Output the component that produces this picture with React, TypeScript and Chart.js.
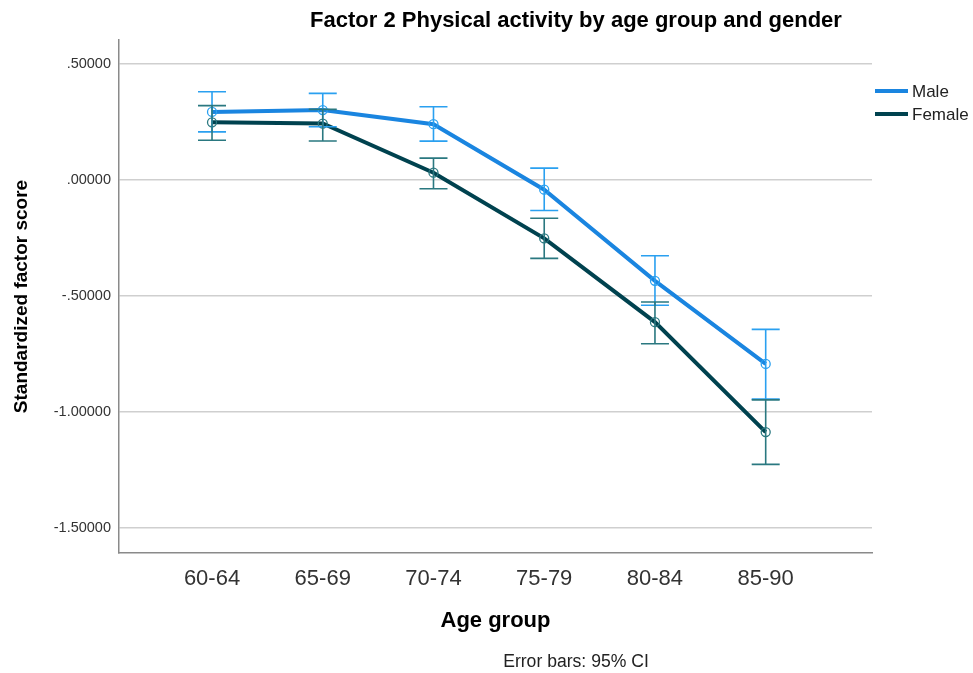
import React, { useEffect, useRef } from "react";
import { Chart, registerables } from "chart.js";

Chart.register(...registerables);

const categories = ["60-64", "65-69", "70-74", "75-79", "80-84", "85-90"];
const maleMean = [0.293, 0.301, 0.24, -0.042, -0.435, -0.793];
const maleLower = [0.207, 0.229, 0.167, -0.132, -0.54, -0.945];
const maleUpper = [0.38, 0.373, 0.315, 0.051, -0.327, -0.644];
const femaleMean = [0.248, 0.243, 0.031, -0.252, -0.613, -1.087];
const femaleLower = [0.171, 0.168, -0.038, -0.338, -0.706, -1.226];
const femaleUpper = [0.32, 0.304, 0.094, -0.165, -0.526, -0.948];
const yTicks = [-1.5, -1.0, -0.5, 0, 0.5];

const MALE = "#1a85e0";
const FEMALE = "#00424f";
const MALE_ERR = "#2aa0f0";
const FEMALE_ERR = "#2a7880";

const FONT = "'Liberation Sans', Arial, sans-serif";

const errorBarPlugin = {
  id: "errorBars",
  afterDatasetsDraw(chart: any) {
    const { ctx, scales } = chart;
    const xs = scales.x;
    const ys = scales.y;
    const sets = [
      { lo: maleLower, hi: maleUpper, color: MALE_ERR },
      { lo: femaleLower, hi: femaleUpper, color: FEMALE_ERR },
    ];
    ctx.save();
    ctx.lineWidth = 1.6;
    sets.forEach((s) => {
      ctx.strokeStyle = s.color;
      categories.forEach((_, i) => {
        const x = xs.getPixelForValue(i);
        const y1 = ys.getPixelForValue(s.lo[i]);
        const y2 = ys.getPixelForValue(s.hi[i]);
        const half = 14;
        ctx.beginPath();
        ctx.moveTo(x, y1);
        ctx.lineTo(x, y2);
        ctx.moveTo(x - half, y1);
        ctx.lineTo(x + half, y1);
        ctx.moveTo(x - half, y2);
        ctx.lineTo(x + half, y2);
        ctx.stroke();
      });
    });
    ctx.restore();
  },
};

const textPlugin = {
  id: "texts",
  afterDraw(chart: any) {
    const { ctx } = chart;
    ctx.save();
    ctx.fillStyle = "#000";
    ctx.textBaseline = "middle";
    ctx.textAlign = "center";
    ctx.font = `bold 22px ${FONT}`;
    ctx.fillText("Factor 2 Physical activity by age group and gender", 576, 21);
    ctx.font = `17.6px ${FONT}`;
    ctx.fillStyle = "#222";
    ctx.fillText("Error bars: 95% CI", 576, 662);
    // legend
    const items = [
      { label: "Male", color: MALE, y: 91 },
      { label: "Female", color: FEMALE, y: 114 },
    ];
    ctx.textAlign = "left";
    ctx.font = `17px ${FONT}`;
    items.forEach((it) => {
      ctx.strokeStyle = it.color;
      ctx.lineWidth = 4;
      ctx.beginPath();
      ctx.moveTo(875, it.y);
      ctx.lineTo(908, it.y);
      ctx.stroke();
      ctx.fillStyle = "#222";
      ctx.fillText(it.label, 912, it.y + 1);
    });
    ctx.restore();
  },
};

export default function App() {
  const ref = useRef<HTMLCanvasElement | null>(null);
  useEffect(() => {
    if (!ref.current) return;
    const chart = new Chart(ref.current, {
      type: "line",
      data: {
        datasets: [
          {
            label: "Male",
            data: maleMean.map((v, i) => ({ x: i, y: v })),
            borderColor: MALE,
            borderWidth: 4,
            pointRadius: 4.5,
            pointBorderWidth: 1.3,
            pointBorderColor: MALE_ERR,
            pointBackgroundColor: "rgba(255,255,255,0)",
            tension: 0,
          },
          {
            label: "Female",
            data: femaleMean.map((v, i) => ({ x: i, y: v })),
            borderColor: FEMALE,
            borderWidth: 4,
            pointRadius: 4.5,
            pointBorderWidth: 1.3,
            pointBorderColor: FEMALE_ERR,
            pointBackgroundColor: "rgba(255,255,255,0)",
            tension: 0,
          },
        ],
      },
      options: {
        animation: false,
        responsive: false,
        maintainAspectRatio: false,
        layout: { padding: { top: 40, right: 101, left: 0, bottom: 0 } },
        plugins: {
          legend: { display: false },
          title: { display: false },
          tooltip: { enabled: false },
        },
        scales: {
          x: {
            type: "linear",
            min: -0.84,
            max: 5.96,
            afterBuildTicks: (scale: any) => {
              scale.ticks = categories.map((_, i) => ({ value: i }));
            },
            afterFit: (scale: any) => {
              scale.height = 120;
            },
            grid: { display: false, drawTicks: false },
            border: { display: true, color: "#8a8a8a", width: 1.5 },
            ticks: {
              callback: (v: any) => categories[v] ?? "",
              font: { family: FONT, size: 22 },
              color: "#333",
              padding: 13,
              maxRotation: 0,
              autoSkip: false,
            },
            title: {
              display: true,
              text: "Age group",
              font: { family: FONT, size: 22, weight: "bold" },
              color: "#000",
              padding: { top: 0, bottom: 39 },
            },
          },
          y: {
            type: "linear",
            min: -1.608,
            max: 0.603,
            afterBuildTicks: (scale: any) => {
              scale.ticks = yTicks.map((v) => ({ value: v }));
            },
            afterFit: (scale: any) => {
              scale.width = 119;
            },
            grid: { color: "#cfcfcf", lineWidth: 1.5, drawTicks: false },
            border: { display: true, color: "#8a8a8a", width: 1.5 },
            ticks: {
              callback: (v: any) => {
                const s = Math.abs(v).toFixed(5).replace(/^0/, "");
                return (v < 0 ? "-" : "") + s;
              },
              font: { family: FONT, size: 14.5 },
              color: "#333",
              padding: 8,
            },
            title: {
              display: true,
              text: "Standardized factor score",
              font: { family: FONT, size: 19, weight: "bold" },
              color: "#000",
              padding: { top: 10, bottom: 0 },
            },
          },
        },
      },
      plugins: [errorBarPlugin, textPlugin],
    });
    return () => chart.destroy();
  }, []);
  return (
    <div style={{ position: "fixed", left: 0, top: 0, width: 973, height: 673, background: "#fff" }}>
      <canvas ref={ref} width={973} height={673} />
    </div>
  );
}
